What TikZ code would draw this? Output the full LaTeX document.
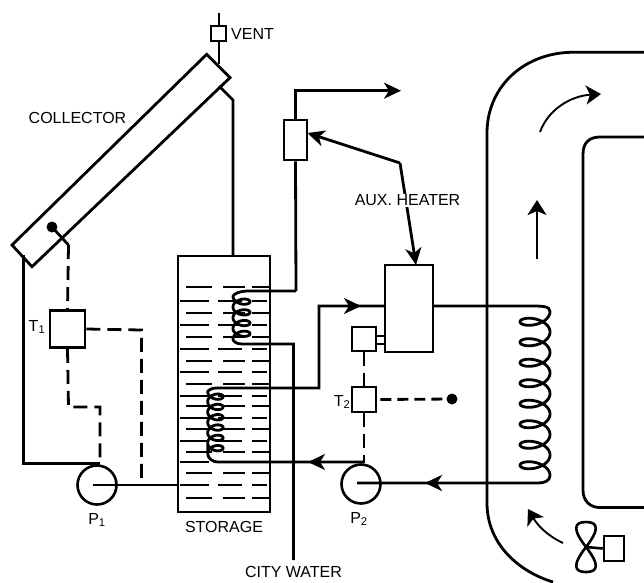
\documentclass[tikz,border=0pt]{standalone}
\usepackage{fontspec}
\setmainfont{Liberation Sans}
\usetikzlibrary{arrows.meta,calc}
\tikzset{
  pipe/.style={line width=2.8pt,line join=miter},
  ctrl/.style={line width=2.8pt,dash pattern=on 14pt off 7pt},
  unit/.style={draw,line width=2.8pt,fill=white,inner sep=0pt,minimum width=#1},
  unit/.default=24pt,
  pump/.style={circle,draw,line width=2.6pt,minimum size=39pt,inner sep=0pt},
  dot/.style={circle,fill=black,inner sep=0pt,minimum size=11pt},
  lbl/.style={font=\fontsize{16}{16}\selectfont,inner sep=0pt},
  flow/.style={-{Stealth[length=17pt,width=16pt,inset=5pt]}},
  airflow/.style={line width=1.9pt,-{Stealth[length=15pt,width=19pt,inset=4pt]}},
  water/.style={line width=1.6pt}
}
\begin{document}
\begin{tikzpicture}[x=1pt,y=-1pt]
\useasboundingbox (0,0) rectangle (644,582);
% house
\draw[line width=2.8pt] (644,52.3) -- (570,52.3) .. controls (522,54) and (487,88) .. (487,133) -- (487,503) .. controls (487,545) and (520,572) .. (553,582);
\draw[line width=2.8pt] (644,137) -- (600,137) .. controls (589,137) and (583,143) .. (583,154) -- (583,490) .. controls (583,501) and (590,507.5) .. (600,507.5) -- (644,507.5);
% storage water
\foreach \y in {286.7,312.7,337,361,384,406,429,452,473,498}{
  \draw[water] (186,\y) -- (212,\y) (223,\y) -- (245,\y) (252,\y) -- (269,\y);}
\foreach \y in {300.7,325,349,372,395.7,418,441,462,485}{
  \draw[water] (180,\y) -- (209,\y) (218,\y) -- (242,\y) (252,\y) -- (267,\y);}
% named parts
\node[draw,line width=2.8pt,minimum width=92pt,minimum height=256pt,inner sep=0pt] (storage) at (224,384) {};
\node[pump] (p1) at (97,485) {};
\node[pump] (p2) at (361,484) {};
\node[unit=15pt,minimum height=15pt] (vent) at (218.5,33.5) {};
\node[unit=35pt,minimum height=37pt] (t1) at (67.5,329) {};
\node[unit=24pt,minimum height=25pt] (t2) at (364,399.5) {};
\node[unit=24pt,minimum height=24pt] (relay) at (364,339) {};
\node[unit=48pt,minimum height=87pt] (heater) at (409,308.5) {};
\node[unit=23pt,minimum height=40pt] (valve) at (295.5,140) {};
\node[dot] (s1) at (52,227) {};
\node[dot] (s2) at (452,399) {};
\node[unit=20pt,minimum height=25pt,line width=2.6pt] (fanbox) at (614,548.5) {};
% collector
\draw[line width=2.8pt,line join=miter] (206.7,54.3) coordinate (ca) -- (230,77.7) coordinate (cb) -- (32,266.7) coordinate (cc) -- (12,245) coordinate (cd) -- cycle;
% vent line
\coordinate (vtop) at (218.5,13);
\coordinate (vbot) at (218.5,64);
\draw[line width=2pt] (vtop) -- (vent.north) (vent.south) -- (vbot);
% collector to storage
\coordinate (cout) at (219,86);
\draw[pipe] (cout) -- (233,100) -- (233,256);
% collector return to P1
\coordinate (cin) at (23.5,255);
\draw[pipe] (cin) -- (23.5,463.5) -- (100,463.5);
% P1 to storage
\coordinate (p1c) at (93,485);
\draw[pipe] (p1c) -- (178,485);
% controls
\coordinate (sa) at (68.5,245);
\draw[pipe] (s1.center) -- (sa);
\draw[ctrl] (sa) -- (t1.north);
\draw[ctrl] (t1.south) -- (68.5,407) -- (100,407) -- (100,464);
\draw[ctrl] (t1.east) -- (141.5,330) -- (141.5,485);
\draw[ctrl] (relay.south) -- (t2.north);
\draw[ctrl] (t2.south) -- (364,463);
\draw[ctrl,dash pattern=on 11pt off 6pt] ($(t2.east)+(3,0)$) -- (s2.center);
% relay to heater
\draw[line width=2pt] (376,336) -- (385,336) (376,344) -- (385,344);
% coil 1 (top, DHW)
\coordinate (dhw) at (296,291);
\draw[pipe] (dhw) -- (248,291) .. controls (240,291) and (233,294) .. (233,296.3)
  -- plot[domain=0:1440,samples=300] ({241.5-8.5*cos(\x)},{296.3+\x/360*10.7+5*sin(\x)})
  .. controls (233,341) and (236,344) .. (242,344) -- (293.5,344) -- (293.5,560);
% DHW out
\coordinate (hot) at (401,90.7);
\draw[pipe] (valve.north) -- (295.5,90.7) -- (390,90.7);
\draw[pipe,flow] (295.5,90.7) -- (hot);
\draw[pipe] (valve.south) -- (dhw);
% aux
\coordinate (bend) at (400,163);
\draw[pipe,flow] (bend) -- (307.5,133);
\draw[pipe,flow] (bend) -- (416,265);
% coil 2 (bottom)
\draw[pipe] (364,462) -- (218,462) .. controls (212,462) and (207.7,458) .. (207.7,453.3)
  -- plot[domain=2160:0,samples=400] ({215.4-7.7*cos(\x)},{391.5+\x/360*10.3+5*sin(\x)})
  .. controls (207.7,391) and (211,388) .. (216,388) -- (319,388) -- (319,306) -- (385,306);
\draw[pipe,flow] (319,306) -- (361,306);
\draw[pipe,flow] (364,462) -- (308,462);
% house coil
\draw[pipe] (433,306) -- (530,306) .. controls (542,306) and (550,306) .. (550,311.5)
  -- plot[domain=0:2880,samples=600] ({535+15*cos(\x)},{311.5+\x/360*20.5+8*sin(\x)})
  .. controls (550,481) and (544,483) .. (538,483) -- (357,483);
\draw[pipe,flow] (538,483) -- (425,483);
% air
\coordinate (a1) at (540,132);
\coordinate (a2) at (601,94);
\coordinate (a3) at (537,259);
\coordinate (a4) at (537,200);
\coordinate (a5) at (563,543);
\coordinate (a6) at (528,509);
\draw[airflow] (a1) .. controls (548,110) and (570,96) .. (a2);
\draw[airflow] (a3) -- (a4);
\draw[airflow] (a5) .. controls (548,536) and (538,526) .. (a6);
% fan
\coordinate (fc) at (586,547);
\draw[line width=2.6pt] (fc) .. controls (572,529) and (574,522) .. (586,522) .. controls (598,522) and (600,529) .. (fc)
  .. controls (572,565) and (574,572) .. (586,572) .. controls (598,572) and (600,565) .. (fc);
\draw[line width=2.6pt] (fc) -- (fanbox.west);
% labels
\node[lbl,anchor=west] (ventl) at (231,33.5) {VENT};
\node[lbl] (coll) at (77.5,118) {COLLECTOR};
\node[lbl,fill=white,inner ysep=1pt] (auxl) at (407.5,200.5) {AUX. HEATER};
\node[lbl] (stol) at (224,527) {STORAGE};
\node[lbl] (cityl) at (293.5,572) {CITY WATER};
\node[lbl] (t1l) at (37,327) {T\textsubscript{1}};
\node[lbl] (t2l) at (342,402) {T\textsubscript{2}};
\node[lbl] (p1l) at (97,520) {P\textsubscript{1}};
\node[lbl] (p2l) at (359,519) {P\textsubscript{2}};
\end{tikzpicture}
\end{document}
